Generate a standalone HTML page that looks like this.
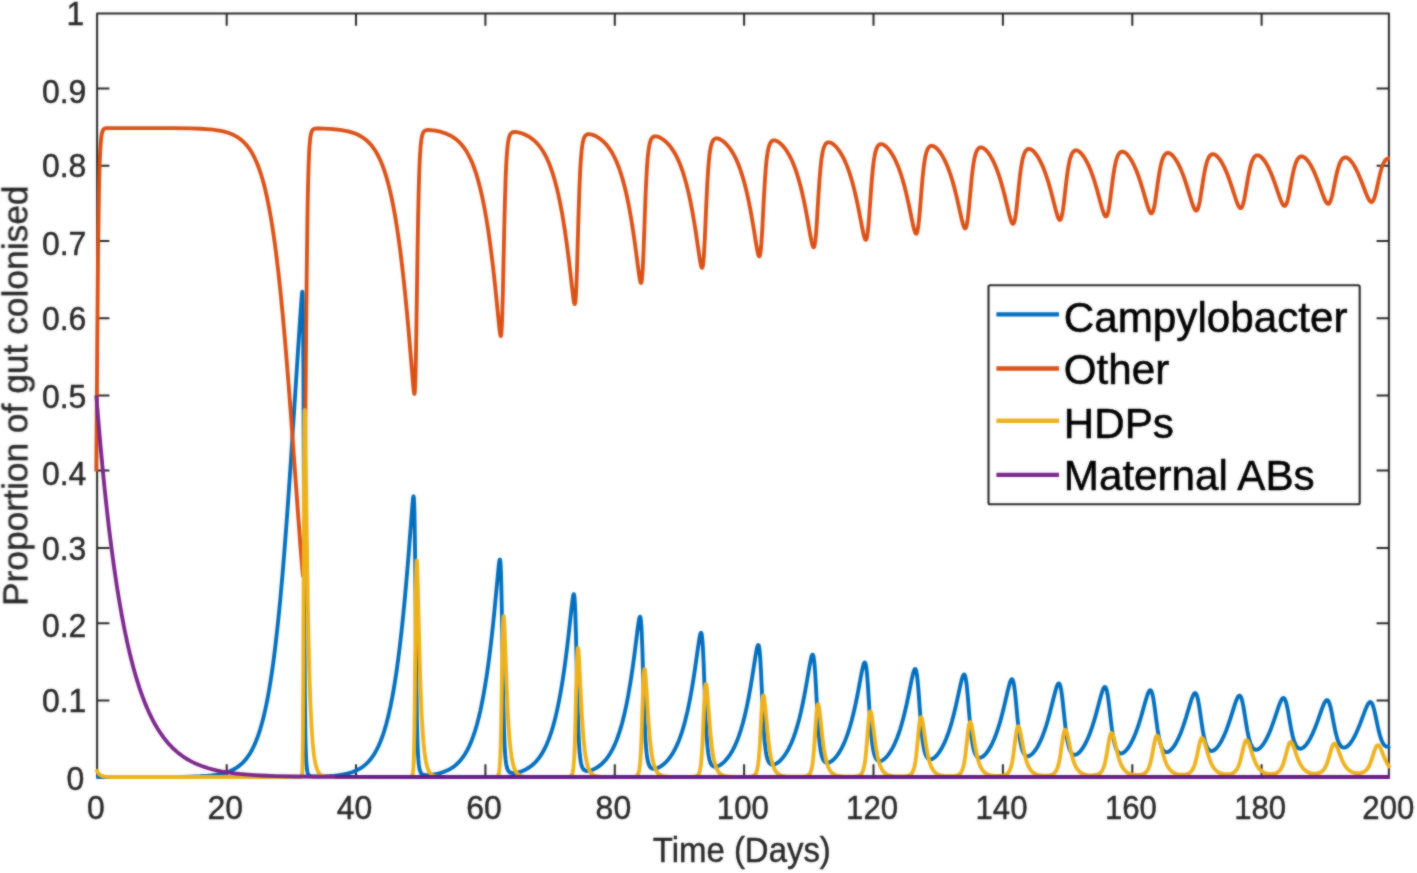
<!DOCTYPE html>
<html><head><meta charset="utf-8"><title>Figure</title>
<style>html,body{margin:0;padding:0;background:#fff}svg{display:block}text{font-family:"Liberation Sans",sans-serif}</style></head><body>
<svg width="1417" height="873" viewBox="0 0 1417 873">
<rect width="1417" height="873" fill="#fff"/>
<defs><filter id="soft" x="0" y="0" width="100%" height="100%" filterUnits="userSpaceOnUse" color-interpolation-filters="sRGB"><feGaussianBlur stdDeviation="0.8" result="b"/><feComposite in="b" in2="SourceGraphic" operator="arithmetic" k1="0" k2="0.55" k3="0.45" k4="0"/></filter></defs>
<g filter="url(#soft)">
<rect width="1417" height="873" fill="#fff"/>
<g stroke="#262626" stroke-width="2" fill="none" stroke-linecap="butt" stroke-linejoin="round">
<path d="M97.1 777.6V13.5H1388.9V777.6"/>
<path d="M226.7 776.6v-12.3M226.7 13.5v12.3"/>
<path d="M356.0 776.6v-12.3M356.0 13.5v12.3"/>
<path d="M485.4 776.6v-12.3M485.4 13.5v12.3"/>
<path d="M614.8 776.6v-12.3M614.8 13.5v12.3"/>
<path d="M744.1 776.6v-12.3M744.1 13.5v12.3"/>
<path d="M873.5 776.6v-12.3M873.5 13.5v12.3"/>
<path d="M1002.9 776.6v-12.3M1002.9 13.5v12.3"/>
<path d="M1132.3 776.6v-12.3M1132.3 13.5v12.3"/>
<path d="M1261.6 776.6v-12.3M1261.6 13.5v12.3"/>
<path d="M97.1 88.5h12.3M1388.9 88.5h-12.3"/>
<path d="M97.1 165.7h12.3M1388.9 165.7h-12.3"/>
<path d="M97.1 240.9h12.3M1388.9 240.9h-12.3"/>
<path d="M97.1 318.3h12.3M1388.9 318.3h-12.3"/>
<path d="M97.1 395.4h12.3M1388.9 395.4h-12.3"/>
<path d="M97.1 470.5h12.3M1388.9 470.5h-12.3"/>
<path d="M97.1 548.1h12.3M1388.9 548.1h-12.3"/>
<path d="M97.1 623.2h12.3M1388.9 623.2h-12.3"/>
<path d="M97.1 700.6h12.3M1388.9 700.6h-12.3"/>
</g>
<g fill="none" stroke-width="3.85" stroke-linejoin="round" stroke-linecap="butt">
<path stroke="#006DBD" d="M96.30 777.00 162.44 776.93 178.13 776.82 189.67 776.62 199.76 776.25 207.95 775.70 211.54 775.34 214.84 774.93 217.91 774.44 220.79 773.88 223.96 773.12 226.90 772.24 229.68 771.23 232.27 770.10 234.73 768.82 237.02 767.40 239.22 765.82 241.32 764.06 243.33 762.13 245.24 760.02 247.08 757.71 248.86 755.17 250.57 752.42 252.22 749.45 253.81 746.26 255.33 742.86 257.04 738.58 258.72 733.87 260.34 728.82 261.93 723.32 263.45 717.47 264.93 711.16 266.39 704.38 267.78 697.29 269.14 689.74 270.50 681.54 271.82 672.86 273.12 663.71 274.38 654.11 275.64 643.82 278.10 621.64 280.20 600.37 282.30 576.93 284.44 550.94 286.60 522.42 288.64 493.85 290.84 461.45 297.89 352.67 300.41 314.70 301.74 296.20 302.06 292.87 302.19 292.04 302.32 291.70 302.42 291.92 302.48 292.35 302.61 294.16 302.84 301.84 303.03 315.66 303.19 334.69 303.49 390.30 304.10 558.04 304.42 630.08 304.81 688.02 305.26 726.98 305.52 740.57 305.85 752.10 306.20 760.27 306.66 766.58 307.17 770.64 307.50 772.20 307.85 773.40 308.24 774.29 308.73 775.03 309.31 775.57 309.99 775.95 311.28 776.31 313.16 776.49 316.03 776.54 320.14 776.47 325.35 776.27 330.30 775.96 334.73 775.58 338.77 775.12 341.75 774.67 344.53 774.17 347.15 773.59 349.61 772.95 351.94 772.22 354.17 771.40 356.27 770.51 358.27 769.52 360.18 768.44 361.99 767.28 363.74 766.00 365.42 764.62 367.04 763.13 368.59 761.53 370.11 759.78 371.57 757.93 372.99 755.93 374.35 753.83 375.67 751.58 376.97 749.17 378.23 746.62 379.46 743.90 380.66 741.03 381.82 738.01 383.02 734.64 384.18 731.10 386.41 723.49 388.55 715.08 390.62 705.74 392.59 695.62 394.53 684.38 396.41 672.17 398.22 659.05 399.83 646.13 401.45 632.02 403.04 617.00 404.62 600.75 406.34 581.78 408.05 561.38 412.45 504.46 413.06 498.29 413.29 496.88 413.42 496.43 413.52 496.30 413.61 496.38 413.71 496.72 413.87 497.94 414.16 502.87 414.42 511.15 414.68 524.11 415.13 559.17 416.01 649.82 416.46 689.46 416.98 721.52 417.27 734.12 417.59 744.60 417.95 752.91 418.37 759.67 418.85 764.76 419.43 768.53 419.76 769.94 420.15 771.20 420.57 772.19 421.02 772.97 421.57 773.63 422.18 774.13 422.89 774.52 423.74 774.80 425.00 775.01 426.58 775.09 428.52 775.03 430.75 774.83 433.21 774.50 435.73 774.05 438.16 773.52 440.52 772.90 442.53 772.28 444.47 771.59 446.34 770.83 448.12 770.00 449.84 769.10 451.49 768.13 453.07 767.08 454.62 765.94 456.05 764.77 457.44 763.51 458.76 762.19 460.06 760.78 461.32 759.28 462.55 757.68 464.91 754.21 467.14 750.36 469.27 746.08 471.31 741.38 473.28 736.16 475.16 730.51 476.94 724.46 478.69 717.79 480.37 710.61 482.02 702.77 483.60 694.42 485.15 685.42 486.64 675.95 487.90 667.24 489.16 657.87 490.39 648.08 491.62 637.61 493.05 624.60 494.47 610.64 498.58 567.09 498.96 563.67 499.32 561.18 499.61 559.84 499.74 559.53 499.87 559.43 500.06 559.75 500.26 560.76 500.61 564.90 500.94 571.93 501.23 581.47 501.78 608.13 502.85 676.04 503.40 705.86 504.01 729.96 504.37 739.91 504.72 747.53 505.17 754.66 505.66 760.00 506.21 764.10 506.89 767.36 507.24 768.55 507.66 769.64 508.12 770.52 508.63 771.27 509.22 771.88 509.86 772.36 510.61 772.71 511.45 772.96 512.48 773.10 513.68 773.11 515.01 773.00 516.49 772.77 518.11 772.40 519.76 771.94 521.44 771.36 523.12 770.70 526.20 769.22 529.07 767.50 531.79 765.50 534.38 763.21 536.68 760.80 538.87 758.10 540.94 755.15 542.95 751.86 544.86 748.28 546.70 744.34 548.45 740.13 550.16 735.48 551.71 730.78 553.23 725.69 554.72 720.18 556.15 714.39 557.54 708.19 558.89 701.57 560.22 694.55 561.55 686.92 562.81 679.07 564.04 670.84 565.27 662.00 566.46 652.78 568.44 636.27 571.54 607.88 572.45 600.25 572.83 597.53 573.19 595.56 573.48 594.49 573.64 594.17 573.77 594.09 573.90 594.17 574.00 594.36 574.23 595.27 574.61 598.67 574.97 604.29 575.32 612.71 575.94 633.93 577.20 690.42 577.78 712.95 578.49 733.42 578.88 741.54 579.30 748.39 579.79 754.31 580.31 758.87 580.92 762.67 581.63 765.59 582.02 766.73 582.47 767.78 582.96 768.64 583.48 769.33 584.06 769.91 584.70 770.35 585.42 770.68 586.19 770.88 587.07 770.98 588.00 770.96 589.04 770.83 590.14 770.60 591.33 770.25 592.56 769.80 595.09 768.62 597.54 767.16 599.94 765.43 602.23 763.45 604.43 761.21 606.41 758.88 608.31 756.30 610.16 753.45 611.90 750.40 613.59 747.10 615.20 743.54 616.79 739.65 618.31 735.51 619.67 731.43 620.99 727.08 622.29 722.45 623.55 717.54 624.78 712.35 625.97 706.90 627.14 701.17 628.30 695.01 630.53 681.92 632.70 667.46 634.45 654.53 637.49 630.23 638.46 623.07 638.91 620.25 639.33 618.19 639.69 617.04 639.85 616.76 640.01 616.65 640.14 616.70 640.27 616.89 640.49 617.61 640.92 620.44 641.34 625.60 641.72 632.74 642.44 651.66 643.79 697.94 644.47 718.11 645.25 735.45 645.67 742.43 646.09 748.00 646.61 753.29 647.19 757.66 647.84 761.11 648.55 763.74 648.97 764.87 649.39 765.78 649.87 766.61 650.39 767.29 650.97 767.85 651.59 768.27 652.27 768.58 652.98 768.77 653.72 768.84 654.50 768.81 655.34 768.69 656.21 768.48 658.12 767.76 660.16 766.69 662.20 765.32 664.23 763.67 666.21 761.78 668.12 759.67 669.86 757.45 671.58 754.99 673.19 752.39 674.78 749.53 676.30 746.47 677.79 743.16 679.21 739.66 680.60 735.90 681.80 732.37 682.96 728.66 684.09 724.76 685.22 720.56 687.39 711.61 689.49 701.67 691.53 690.73 693.57 678.41 695.15 667.89 698.23 646.03 699.29 639.03 699.81 636.20 700.26 634.25 700.68 633.08 700.88 632.82 701.04 632.75 701.17 632.81 701.30 632.98 701.56 633.69 701.78 634.75 702.01 636.28 702.46 640.90 702.88 647.21 703.66 663.82 705.15 704.11 705.86 721.06 706.70 736.41 707.15 742.65 707.61 747.68 708.16 752.46 708.74 756.28 709.42 759.52 710.16 762.02 710.58 763.07 711.00 763.92 711.45 764.66 711.97 765.32 712.52 765.84 713.10 766.24 713.75 766.53 714.43 766.70 715.04 766.76 715.72 766.74 717.18 766.43 718.76 765.80 720.45 764.84 722.16 763.61 723.91 762.10 725.65 760.33 727.33 758.36 728.92 756.27 730.44 754.01 731.93 751.55 733.35 748.94 734.74 746.12 736.10 743.10 737.43 739.87 738.72 736.42 740.85 730.04 742.89 723.04 744.86 715.33 746.77 706.89 748.71 697.25 750.62 686.67 752.37 676.06 755.34 656.94 756.31 651.25 756.90 648.37 757.38 646.48 757.83 645.32 758.03 645.05 758.22 644.95 758.38 645.00 758.51 645.13 758.77 645.70 759.03 646.69 759.26 647.95 759.74 651.98 760.23 657.98 761.07 672.84 762.65 708.06 763.43 723.37 764.30 736.77 764.75 742.15 765.24 746.87 765.82 751.35 766.44 754.95 767.12 757.91 767.86 760.25 768.70 762.06 769.19 762.82 769.67 763.42 770.19 763.90 770.77 764.29 771.35 764.56 772.00 764.72 773.13 764.75 774.39 764.49 775.75 763.93 777.21 763.08 778.69 761.97 780.21 760.60 781.73 759.01 783.22 757.23 784.61 755.35 786.00 753.26 787.36 751.00 788.69 748.57 789.98 745.97 791.24 743.19 792.47 740.24 793.67 737.13 795.61 731.51 797.49 725.35 799.30 718.65 801.04 711.43 802.92 702.78 804.76 693.35 806.44 684.00 809.42 666.57 810.49 660.85 811.10 658.06 811.65 656.10 812.14 654.96 812.36 654.67 812.59 654.57 812.88 654.74 813.17 655.31 813.43 656.18 813.69 657.43 814.21 661.19 814.72 666.71 815.60 679.78 817.31 711.74 818.12 725.17 819.06 737.42 819.54 742.35 820.03 746.44 820.61 750.40 821.22 753.65 821.90 756.38 822.68 758.65 823.52 760.36 823.97 761.04 824.46 761.61 824.98 762.08 825.53 762.44 826.08 762.69 826.69 762.84 827.73 762.86 828.83 762.63 830.02 762.14 831.28 761.39 832.61 760.39 833.94 759.17 835.29 757.73 836.62 756.12 837.91 754.36 839.17 752.45 840.44 750.35 841.67 748.10 842.86 745.71 844.03 743.18 845.16 740.51 846.29 737.63 848.07 732.64 849.78 727.24 851.47 721.34 853.08 715.05 854.86 707.40 856.64 698.98 858.32 690.35 861.33 674.16 862.46 668.59 863.14 665.77 863.72 663.88 864.24 662.78 864.50 662.48 864.73 662.40 864.89 662.44 865.05 662.58 865.34 663.09 865.63 663.96 865.89 665.07 866.44 668.56 866.99 673.65 867.93 685.76 869.74 714.62 870.58 726.58 871.55 737.58 872.03 741.93 872.55 745.81 873.13 749.37 873.78 752.48 874.49 755.09 875.24 757.11 876.08 758.74 876.98 759.90 877.47 760.33 877.99 760.67 878.54 760.91 879.12 761.05 880.06 761.08 881.06 760.87 882.13 760.44 883.23 759.80 884.39 758.92 885.55 757.87 886.75 756.61 887.98 755.13 889.18 753.51 890.34 751.77 891.51 749.85 892.64 747.81 893.77 745.59 894.87 743.25 897.00 738.16 898.62 733.78 900.21 729.02 901.76 723.86 903.28 718.30 905.02 711.29 906.77 703.58 908.42 695.74 911.46 680.61 912.69 675.01 913.40 672.28 914.02 670.42 914.60 669.27 914.86 669.00 915.12 668.91 915.44 669.07 915.76 669.57 916.05 670.35 916.34 671.46 916.93 674.74 917.48 679.21 918.45 690.03 920.39 716.76 921.26 727.57 922.23 737.29 922.75 741.45 923.27 744.96 923.88 748.39 924.53 751.26 925.21 753.60 925.95 755.54 926.76 757.06 927.66 758.22 928.15 758.65 928.67 758.98 929.22 759.22 929.77 759.36 930.61 759.39 931.51 759.22 932.48 758.85 933.49 758.28 934.52 757.52 935.59 756.57 936.69 755.43 937.79 754.12 938.89 752.66 939.95 751.09 942.09 747.48 944.16 743.36 946.20 738.66 947.68 734.79 949.17 730.51 950.63 725.92 952.05 721.02 953.76 714.57 955.48 707.50 957.13 700.19 960.23 685.85 961.53 680.38 962.27 677.73 962.92 675.92 963.24 675.25 963.53 674.80 963.82 674.52 964.08 674.43 964.44 674.59 964.76 675.04 965.08 675.82 965.38 676.82 965.96 679.72 966.57 684.11 967.61 694.32 969.58 718.14 970.52 728.38 971.52 737.29 972.04 741.02 972.59 744.39 973.20 747.50 973.85 750.14 974.53 752.32 975.27 754.15 976.08 755.60 976.95 756.67 977.44 757.09 977.92 757.40 978.44 757.62 978.96 757.75 979.74 757.79 980.58 757.66 981.45 757.34 982.39 756.83 983.33 756.17 984.30 755.33 985.30 754.31 986.30 753.15 987.30 751.85 988.31 750.41 990.31 747.10 992.28 743.28 994.19 739.02 995.91 734.68 997.56 730.01 999.17 724.95 1000.79 719.39 1003.35 709.58 1007.94 689.99 1009.52 683.91 1010.20 681.81 1010.82 680.34 1011.37 679.48 1011.63 679.27 1011.88 679.18 1012.24 679.30 1012.56 679.68 1012.89 680.33 1013.21 681.28 1013.82 683.95 1014.47 688.01 1014.99 692.14 1015.57 697.56 1017.64 719.63 1018.61 729.02 1019.68 737.46 1020.20 740.80 1020.75 743.84 1021.36 746.68 1022.01 749.11 1022.69 751.14 1023.43 752.86 1024.24 754.23 1025.08 755.22 1025.99 755.88 1026.47 756.10 1026.99 756.23 1027.73 756.28 1028.51 756.17 1029.32 755.89 1030.16 755.46 1031.03 754.87 1031.90 754.14 1032.81 753.26 1033.75 752.21 1035.62 749.72 1037.50 746.73 1039.34 743.28 1041.15 739.38 1042.77 735.45 1044.39 731.09 1045.97 726.36 1047.53 721.29 1049.95 712.52 1054.61 693.91 1056.26 687.98 1056.97 685.92 1057.62 684.47 1058.23 683.59 1058.52 683.37 1058.78 683.31 1059.14 683.44 1059.49 683.83 1059.82 684.44 1060.14 685.31 1060.79 687.86 1061.46 691.73 1062.01 695.68 1062.60 700.54 1064.76 721.10 1065.73 729.48 1066.80 737.11 1067.35 740.34 1067.90 743.13 1068.52 745.76 1069.16 748.03 1069.84 749.95 1070.59 751.58 1071.36 752.85 1072.20 753.81 1073.11 754.46 1074.05 754.79 1074.76 754.85 1075.47 754.76 1076.21 754.53 1076.99 754.16 1077.80 753.64 1078.61 753.00 1079.45 752.22 1080.32 751.28 1082.07 749.05 1083.81 746.36 1085.56 743.21 1087.31 739.60 1088.86 735.99 1090.41 731.98 1091.93 727.67 1093.45 722.96 1095.81 714.89 1100.47 697.41 1102.15 691.71 1102.93 689.57 1103.61 688.13 1104.25 687.24 1104.55 687.02 1104.84 686.94 1105.19 687.04 1105.55 687.37 1105.90 687.96 1106.26 688.82 1106.94 691.24 1107.65 694.90 1108.20 698.46 1108.81 703.06 1111.05 722.01 1112.05 729.81 1113.15 736.93 1113.70 739.89 1114.28 742.59 1114.93 745.12 1115.57 747.21 1116.25 748.97 1116.96 750.43 1117.71 751.58 1118.52 752.48 1119.39 753.10 1120.30 753.43 1120.94 753.49 1121.62 753.43 1122.33 753.23 1123.08 752.90 1123.82 752.45 1124.60 751.87 1126.18 750.34 1127.83 748.31 1129.48 745.86 1131.13 742.99 1132.78 739.72 1134.27 736.40 1135.76 732.73 1137.24 728.70 1138.73 724.32 1141.00 717.00 1145.72 700.31 1147.43 694.85 1148.24 692.76 1148.95 691.33 1149.31 690.81 1149.63 690.45 1149.95 690.23 1150.25 690.16 1150.63 690.26 1150.99 690.58 1151.38 691.18 1151.73 691.98 1152.44 694.32 1153.16 697.66 1153.74 701.07 1154.38 705.45 1156.65 722.78 1157.68 730.06 1158.82 736.74 1159.95 741.94 1160.56 744.18 1161.21 746.15 1161.89 747.84 1162.57 749.18 1163.31 750.31 1164.09 751.17 1164.93 751.78 1165.80 752.11 1166.42 752.20 1167.06 752.16 1167.74 752.01 1168.42 751.74 1169.13 751.35 1169.84 750.85 1171.33 749.51 1172.88 747.70 1174.44 745.51 1176.02 742.89 1177.61 739.88 1179.06 736.78 1180.49 733.44 1181.94 729.69 1183.40 725.63 1186.02 717.55 1190.61 702.21 1192.13 697.69 1192.97 695.63 1193.75 694.17 1194.10 693.67 1194.46 693.31 1194.78 693.11 1195.10 693.03 1195.49 693.14 1195.88 693.46 1196.27 694.03 1196.62 694.76 1197.34 696.89 1198.08 700.05 1198.69 703.31 1199.34 707.28 1201.73 723.83 1202.77 730.41 1203.90 736.50 1205.03 741.30 1205.65 743.39 1206.29 745.24 1206.94 746.77 1207.62 748.05 1208.33 749.10 1209.11 749.95 1209.88 750.51 1210.73 750.87 1211.31 750.97 1211.92 750.96 1212.57 750.85 1213.22 750.63 1213.90 750.29 1214.57 749.85 1215.97 748.68 1217.42 747.08 1218.91 745.09 1220.43 742.70 1221.95 739.95 1223.34 737.13 1224.76 733.95 1226.19 730.46 1227.61 726.67 1230.20 719.11 1234.79 704.62 1236.37 700.17 1237.25 698.15 1238.02 696.76 1238.41 696.25 1238.77 695.90 1239.12 695.69 1239.45 695.61 1239.83 695.70 1240.22 695.98 1240.61 696.47 1241.00 697.19 1241.74 699.20 1242.52 702.20 1243.17 705.32 1243.84 709.11 1246.27 724.36 1247.34 730.55 1248.47 736.15 1249.60 740.61 1250.22 742.58 1250.83 744.24 1251.48 745.71 1252.12 746.90 1252.80 747.89 1253.51 748.68 1254.26 749.26 1255.07 749.65 1255.62 749.78 1256.20 749.82 1256.81 749.76 1257.43 749.59 1258.07 749.32 1258.72 748.96 1260.08 747.92 1261.47 746.51 1262.93 744.67 1264.38 742.50 1265.84 740.00 1267.20 737.39 1268.59 734.43 1269.98 731.19 1271.37 727.68 1273.92 720.60 1278.55 706.79 1280.20 702.41 1281.10 700.43 1281.91 699.07 1282.30 698.58 1282.69 698.22 1283.04 698.02 1283.40 697.94 1283.82 698.04 1284.21 698.31 1284.60 698.77 1284.98 699.44 1285.76 701.37 1286.57 704.24 1287.22 707.11 1287.93 710.73 1290.39 724.82 1291.45 730.51 1292.58 735.69 1293.68 739.76 1294.27 741.55 1294.85 743.08 1295.46 744.46 1296.08 745.60 1296.72 746.58 1297.40 747.38 1298.11 747.99 1298.83 748.41 1299.38 748.60 1299.96 748.71 1300.54 748.71 1301.12 748.62 1301.74 748.43 1302.38 748.13 1303.68 747.27 1305.04 746.03 1306.43 744.41 1307.85 742.44 1309.27 740.15 1310.63 737.68 1311.99 734.95 1313.38 731.88 1314.77 728.55 1317.33 721.83 1321.95 708.75 1323.67 704.43 1324.60 702.50 1325.44 701.15 1325.83 700.69 1326.22 700.35 1326.61 700.13 1326.96 700.06 1327.38 700.13 1327.81 700.40 1328.23 700.86 1328.61 701.48 1329.42 703.34 1330.23 705.98 1330.91 708.74 1331.62 712.06 1334.14 725.27 1335.21 730.49 1336.28 735.04 1337.35 738.80 1338.38 741.70 1339.45 743.99 1340.00 744.91 1340.58 745.72 1341.20 746.40 1341.81 746.92 1342.36 747.26 1342.91 747.49 1343.49 747.63 1344.07 747.67 1344.69 747.61 1345.30 747.45 1346.56 746.85 1347.92 745.84 1349.31 744.44 1350.74 742.68 1352.19 740.54 1353.55 738.26 1354.94 735.65 1356.33 732.77 1357.75 729.57 1360.34 723.14 1365.13 710.31 1366.88 706.17 1367.85 704.29 1368.72 702.99 1369.14 702.54 1369.53 702.23 1369.92 702.04 1370.27 701.98 1370.69 702.06 1371.11 702.31 1371.53 702.74 1371.92 703.31 1372.73 705.01 1373.54 707.41 1374.22 709.91 1374.96 713.06 1377.81 726.68 1379.10 732.31 1379.84 735.13 1380.56 737.50 1381.27 739.56 1382.01 741.37 1382.88 743.11 1383.76 744.45 1384.66 745.47 1385.63 746.19 1386.64 746.59 1387.15 746.67 1387.70 746.67 1388.84 746.43 1390.00 745.87"/>
<path stroke="#DA4F14" d="M96.30 471.60 97.21 347.15 97.88 270.60 98.60 213.25 98.95 192.74 99.34 175.49 99.73 162.56 100.18 151.69 100.70 143.29 101.28 137.29 101.60 135.04 101.96 133.18 102.35 131.71 102.77 130.59 103.25 129.71 103.80 129.07 104.48 128.61 105.32 128.31 106.81 128.11 109.37 128.05 142.26 128.05 172.50 128.15 190.55 128.40 200.83 128.77 209.11 129.32 212.73 129.68 216.10 130.11 219.20 130.61 222.11 131.18 225.18 131.92 228.06 132.78 230.75 133.75 233.30 134.85 235.70 136.09 237.96 137.46 240.13 138.98 242.20 140.68 244.17 142.53 246.08 144.58 247.89 146.80 249.64 149.21 251.32 151.82 252.93 154.63 254.52 157.70 256.04 160.97 257.72 165.00 259.34 169.33 260.92 174.05 262.44 179.06 263.93 184.46 265.39 190.27 266.81 196.50 268.17 202.98 269.53 210.03 270.85 217.49 272.15 225.36 273.41 233.62 274.67 242.49 275.90 251.74 278.36 272.12 280.39 291.00 282.43 311.69 284.50 334.53 286.60 359.50 288.58 384.38 290.74 413.03 297.86 511.39 300.54 547.48 302.39 570.67 302.81 574.74 302.97 575.74 303.13 576.14 303.23 575.99 303.29 575.68 303.45 574.02 303.74 566.95 304.04 553.55 304.33 533.66 304.88 481.49 306.11 337.28 306.72 273.81 307.40 220.35 307.76 199.43 308.11 182.76 308.53 167.68 308.98 155.87 309.50 146.54 310.08 139.73 310.41 137.11 310.73 135.10 311.12 133.30 311.54 131.90 311.99 130.84 312.54 129.98 313.19 129.36 313.97 128.94 315.19 128.64 317.01 128.51 320.14 128.53 324.70 128.68 329.42 128.92 333.79 129.24 337.77 129.64 341.39 130.11 344.17 130.57 346.79 131.08 349.28 131.67 351.61 132.32 353.84 133.06 355.95 133.86 357.95 134.75 359.86 135.72 361.70 136.79 363.45 137.93 365.13 139.18 366.78 140.55 368.37 142.03 369.89 143.60 371.34 145.28 372.76 147.09 374.15 149.03 375.48 151.07 376.77 153.25 378.04 155.56 379.26 158.02 380.46 160.61 381.63 163.35 382.79 166.31 383.95 169.50 385.09 172.86 387.25 180.02 389.36 188.00 391.39 196.83 393.33 206.35 395.24 216.89 397.09 228.26 398.90 240.67 400.48 252.59 402.07 265.56 403.65 279.60 405.20 294.43 406.95 312.36 408.70 331.61 413.26 386.06 413.90 392.01 414.16 393.42 414.29 393.78 414.39 393.87 414.49 393.77 414.58 393.46 414.74 392.41 415.07 387.92 415.39 379.55 415.68 368.39 416.23 338.75 417.46 255.90 418.11 218.04 418.85 185.42 419.24 172.87 419.63 162.93 420.08 154.05 420.60 146.69 421.15 141.28 421.79 137.09 422.15 135.49 422.54 134.14 422.96 133.05 423.44 132.13 423.96 131.44 424.58 130.88 425.29 130.48 426.10 130.21 427.29 130.03 428.81 129.98 430.72 130.08 432.95 130.32 435.35 130.69 437.77 131.15 440.13 131.70 442.40 132.33 444.34 132.96 446.21 133.65 447.99 134.40 449.71 135.22 451.36 136.11 452.94 137.06 454.46 138.09 455.95 139.20 457.34 140.34 458.67 141.55 459.99 142.87 461.25 144.24 463.68 147.24 466.01 150.64 468.21 154.39 470.31 158.54 472.31 163.09 474.22 168.02 476.07 173.43 477.84 179.30 479.56 185.64 481.21 192.44 482.83 199.84 484.38 207.66 485.93 216.27 487.42 225.30 488.68 233.58 489.91 242.25 492.33 261.13 493.79 273.65 495.24 287.07 499.42 328.58 499.84 332.04 500.19 334.38 500.48 335.65 500.65 336.03 500.78 336.12 500.90 336.00 501.00 335.75 501.20 334.81 501.55 331.23 501.91 324.85 502.26 315.40 502.88 292.43 504.24 228.92 504.92 201.14 505.72 176.05 506.14 166.34 506.56 158.59 507.05 151.68 507.60 145.90 508.21 141.38 508.93 137.90 509.31 136.56 509.73 135.44 510.19 134.51 510.67 133.77 511.22 133.17 511.84 132.70 512.55 132.34 513.36 132.11 514.36 131.99 515.49 132.00 516.78 132.13 518.24 132.39 519.83 132.77 521.44 133.26 523.09 133.84 524.71 134.50 527.68 135.97 530.50 137.69 533.15 139.66 535.64 141.88 537.90 144.26 540.04 146.88 542.08 149.76 544.05 152.97 545.93 156.45 547.74 160.25 549.45 164.31 551.13 168.78 552.69 173.36 554.17 178.22 555.63 183.45 557.05 189.07 558.41 194.92 559.77 201.30 561.09 208.06 562.39 215.20 563.65 222.72 564.88 230.59 567.30 247.81 569.28 263.49 572.41 290.65 573.32 297.89 573.74 300.68 574.10 302.55 574.42 303.67 574.58 303.96 574.71 304.05 574.84 303.98 574.94 303.83 575.16 303.06 575.58 299.90 575.97 294.65 576.36 286.96 577.07 267.00 578.56 214.56 579.30 191.56 580.14 171.63 580.60 163.53 581.05 157.01 581.57 151.19 582.15 146.31 582.80 142.43 583.51 139.51 583.90 138.34 584.32 137.34 584.77 136.49 585.29 135.76 585.84 135.20 586.45 134.75 587.13 134.43 587.87 134.23 588.68 134.15 589.59 134.17 590.59 134.31 591.66 134.55 592.82 134.90 594.02 135.35 596.51 136.54 598.90 137.98 601.23 139.68 603.46 141.61 605.63 143.82 607.57 146.10 609.41 148.58 611.22 151.34 612.94 154.29 614.59 157.48 616.21 160.97 617.76 164.70 619.28 168.75 620.60 172.63 621.90 176.76 623.16 181.14 624.42 185.89 625.62 190.76 626.81 196.02 627.98 201.53 629.14 207.44 631.37 220.00 633.57 234.05 635.29 246.16 638.39 269.81 639.40 276.85 639.85 279.51 640.27 281.47 640.62 282.58 640.82 282.91 640.98 283.02 641.11 282.97 641.24 282.80 641.50 282.05 641.72 280.89 641.95 279.21 642.40 274.14 642.82 267.29 643.57 250.56 645.15 206.26 645.93 187.01 646.83 169.56 647.29 162.87 647.77 157.02 648.32 151.80 648.94 147.40 649.58 144.01 650.33 141.28 650.75 140.14 651.17 139.23 651.62 138.45 652.11 137.81 652.66 137.26 653.24 136.85 653.88 136.55 654.60 136.37 655.31 136.31 656.05 136.34 656.86 136.47 657.70 136.68 659.58 137.41 661.55 138.47 663.56 139.84 665.53 141.45 667.47 143.31 669.34 145.39 671.06 147.56 672.71 149.92 674.33 152.50 675.88 155.28 677.37 158.23 678.82 161.42 680.24 164.85 681.60 168.46 682.77 171.81 683.93 175.44 686.16 183.21 688.33 191.89 690.40 201.37 692.44 211.92 694.47 223.77 696.06 233.87 699.13 254.81 700.20 261.54 700.75 264.45 701.20 266.34 701.62 267.50 701.82 267.80 702.01 267.92 702.17 267.86 702.30 267.70 702.56 267.06 702.82 265.94 703.05 264.54 703.53 260.07 703.98 254.03 704.82 238.46 706.51 199.90 707.31 183.41 708.25 168.35 708.74 162.31 709.22 157.33 709.80 152.56 710.42 148.70 711.10 145.53 711.84 143.04 712.26 141.99 712.68 141.14 713.14 140.40 713.62 139.78 714.14 139.29 714.72 138.89 715.34 138.61 715.98 138.45 716.60 138.40 717.24 138.43 718.63 138.74 720.15 139.36 721.80 140.31 723.49 141.53 725.20 143.03 726.88 144.74 728.53 146.66 730.08 148.70 731.57 150.90 733.03 153.28 734.45 155.86 735.84 158.64 737.17 161.55 738.46 164.65 739.72 167.95 741.82 174.10 743.83 180.80 745.77 188.16 747.68 196.33 749.62 205.64 751.53 215.85 753.27 226.05 756.25 244.44 757.25 250.11 757.83 252.90 758.35 254.87 758.84 256.06 759.06 256.35 759.26 256.43 759.42 256.37 759.55 256.23 759.84 255.60 760.10 254.64 760.36 253.26 760.87 249.16 761.36 243.64 762.23 230.03 764.04 195.21 764.88 180.79 765.82 167.93 766.31 162.66 766.82 157.98 767.41 153.73 768.05 150.06 768.73 147.15 769.48 144.83 770.32 143.01 770.77 142.30 771.26 141.70 771.77 141.22 772.32 140.85 772.91 140.59 773.52 140.44 774.62 140.42 775.85 140.70 777.17 141.26 778.57 142.08 780.02 143.18 781.51 144.53 783.00 146.09 784.45 147.83 785.84 149.71 787.20 151.74 788.53 153.94 789.82 156.29 791.08 158.80 792.34 161.54 793.54 164.37 794.74 167.44 796.61 172.76 798.46 178.67 800.23 185.07 801.98 192.08 803.82 200.31 805.67 209.42 807.38 218.62 810.39 235.61 811.46 241.12 812.10 243.94 812.65 245.82 813.17 246.98 813.40 247.24 813.62 247.33 813.79 247.28 813.95 247.13 814.24 246.57 814.53 245.62 814.79 244.41 815.31 240.91 815.86 235.57 816.79 223.00 818.67 192.17 819.54 179.27 820.55 167.36 821.06 162.48 821.58 158.39 822.16 154.61 822.81 151.30 823.49 148.64 824.23 146.48 825.07 144.76 825.53 144.08 825.98 143.54 826.50 143.07 827.01 142.72 827.56 142.48 828.15 142.34 829.15 142.31 830.22 142.54 831.35 143.01 832.58 143.74 833.87 144.72 835.16 145.89 836.49 147.30 837.78 148.86 839.05 150.56 840.31 152.45 841.54 154.48 842.73 156.64 843.90 158.93 845.06 161.41 846.19 164.03 847.33 166.86 849.07 171.66 850.75 176.83 852.40 182.47 854.02 188.58 855.80 196.00 857.58 204.16 859.26 212.51 862.27 228.16 863.43 233.72 864.11 236.46 864.73 238.41 865.28 239.54 865.53 239.82 865.76 239.91 866.08 239.76 866.41 239.24 866.70 238.42 866.99 237.25 867.54 234.01 868.12 229.09 869.12 217.42 871.06 189.79 872.00 177.74 873.04 167.00 873.55 162.69 874.07 159.04 874.69 155.46 875.33 152.46 876.01 150.02 876.76 148.00 877.57 146.43 878.02 145.78 878.47 145.26 878.96 144.83 879.44 144.51 879.99 144.26 880.54 144.13 881.45 144.10 882.42 144.29 883.45 144.71 884.52 145.33 885.65 146.18 886.82 147.23 887.98 148.46 889.18 149.89 890.34 151.45 891.47 153.14 892.60 154.98 893.74 156.99 895.94 161.42 898.04 166.34 899.66 170.64 901.21 175.21 902.73 180.14 904.25 185.55 905.99 192.38 907.74 199.86 909.39 207.47 912.46 222.28 913.69 227.70 914.40 230.35 915.05 232.24 915.63 233.35 915.89 233.62 916.15 233.72 916.47 233.60 916.80 233.16 917.12 232.38 917.41 231.37 918.03 228.20 918.64 223.60 919.68 213.01 921.71 187.62 922.65 177.01 923.72 167.14 924.24 163.25 924.79 159.73 925.40 156.47 926.05 153.70 926.76 151.32 927.50 149.44 928.31 147.97 929.18 146.88 929.67 146.47 930.15 146.16 930.67 145.94 931.19 145.81 932.03 145.79 932.90 145.96 933.84 146.32 934.81 146.88 935.85 147.64 936.88 148.56 937.95 149.67 939.02 150.94 940.08 152.35 941.12 153.86 943.22 157.38 945.26 161.38 947.26 165.94 949.01 170.45 950.72 175.40 952.41 180.80 954.06 186.64 955.38 191.73 956.71 197.15 961.33 217.66 962.88 223.83 963.53 225.89 964.11 227.32 964.66 228.19 964.92 228.40 965.15 228.46 965.50 228.32 965.83 227.90 966.15 227.19 966.47 226.17 967.09 223.31 967.74 219.01 968.25 214.67 968.84 209.02 970.94 185.85 971.91 176.13 972.98 167.30 973.53 163.58 974.08 160.39 974.72 157.26 975.37 154.73 976.05 152.62 976.79 150.85 977.60 149.44 978.44 148.44 978.89 148.06 979.38 147.75 979.86 147.54 980.38 147.41 981.16 147.38 981.97 147.52 982.81 147.83 983.71 148.32 984.65 148.99 985.59 149.81 986.56 150.79 987.53 151.91 988.50 153.16 989.50 154.59 991.44 157.76 993.38 161.47 995.26 165.59 996.91 169.69 998.56 174.25 1000.18 179.20 1001.79 184.63 1004.32 194.06 1008.97 213.38 1010.56 219.27 1011.27 221.40 1011.88 222.81 1012.47 223.66 1012.72 223.86 1012.98 223.93 1013.34 223.80 1013.66 223.44 1014.02 222.75 1014.34 221.83 1014.99 219.15 1015.67 215.12 1016.22 211.00 1016.80 205.97 1019.00 184.41 1020.00 175.44 1021.10 167.28 1022.20 161.02 1022.82 158.28 1023.46 155.91 1024.14 153.92 1024.89 152.23 1025.66 150.92 1026.50 149.93 1027.41 149.27 1027.89 149.06 1028.38 148.93 1029.09 148.89 1029.83 148.99 1030.64 149.26 1031.45 149.68 1032.29 150.24 1033.17 150.96 1034.07 151.84 1034.98 152.85 1036.79 155.23 1038.63 158.14 1040.44 161.48 1042.25 165.32 1043.84 169.10 1045.42 173.30 1046.98 177.83 1048.53 182.79 1050.95 191.34 1055.61 209.46 1057.26 215.25 1058.00 217.35 1058.65 218.78 1059.27 219.66 1059.56 219.89 1059.85 219.98 1060.20 219.88 1060.56 219.53 1060.92 218.91 1061.27 218.01 1061.95 215.46 1062.63 211.83 1063.21 207.93 1063.83 203.16 1066.09 183.28 1067.12 174.96 1068.22 167.56 1069.36 161.66 1070.00 159.02 1070.65 156.84 1071.33 154.99 1072.04 153.47 1072.82 152.23 1073.63 151.32 1074.50 150.69 1075.44 150.36 1076.12 150.31 1076.83 150.40 1077.57 150.63 1078.32 150.99 1079.09 151.49 1079.90 152.13 1081.55 153.78 1083.26 155.95 1084.98 158.56 1086.69 161.61 1088.41 165.11 1089.93 168.59 1091.45 172.44 1092.97 176.66 1094.49 181.27 1096.82 189.04 1101.50 206.20 1103.19 211.76 1103.96 213.84 1104.67 215.32 1105.32 216.19 1105.64 216.42 1105.94 216.50 1106.32 216.39 1106.68 216.06 1107.04 215.49 1107.39 214.67 1108.10 212.26 1108.81 208.82 1109.40 205.30 1110.04 200.78 1112.40 182.12 1113.44 174.61 1114.57 167.70 1115.70 162.29 1116.32 159.95 1116.96 157.90 1117.64 156.15 1118.36 154.70 1119.10 153.55 1119.91 152.66 1120.75 152.06 1121.65 151.73 1122.30 151.66 1122.95 151.72 1123.63 151.91 1124.34 152.22 1125.08 152.66 1125.83 153.21 1127.38 154.68 1129.00 156.65 1130.61 159.01 1132.23 161.78 1133.85 164.94 1135.34 168.20 1136.82 171.80 1138.28 175.66 1139.77 179.95 1142.42 188.40 1146.98 204.15 1148.47 208.72 1149.27 210.77 1150.02 212.23 1150.70 213.10 1151.02 213.33 1151.34 213.41 1151.73 213.32 1152.12 212.99 1152.51 212.42 1152.86 211.66 1153.58 209.46 1154.32 206.19 1154.93 202.82 1155.61 198.52 1158.01 181.39 1159.07 174.35 1160.24 167.86 1161.37 162.90 1161.99 160.73 1162.63 158.82 1163.31 157.17 1163.99 155.86 1164.70 154.80 1165.48 153.95 1166.29 153.37 1167.16 153.03 1167.77 152.95 1168.39 152.98 1169.04 153.12 1169.72 153.39 1170.39 153.76 1171.11 154.24 1172.56 155.55 1174.08 157.30 1175.60 159.42 1177.15 161.95 1178.71 164.85 1180.13 167.82 1181.55 171.11 1182.98 174.70 1184.43 178.68 1187.05 186.58 1191.64 201.56 1193.20 206.06 1194.04 208.07 1194.81 209.50 1195.52 210.35 1195.88 210.58 1196.20 210.65 1196.59 210.57 1196.98 210.27 1197.37 209.75 1197.76 209.00 1198.50 206.89 1199.28 203.76 1199.92 200.51 1200.60 196.58 1203.06 180.60 1204.16 174.00 1205.32 168.08 1206.46 163.50 1207.07 161.48 1207.72 159.69 1208.36 158.22 1209.04 156.96 1209.76 155.94 1210.50 155.15 1211.28 154.60 1212.08 154.27 1212.67 154.17 1213.25 154.17 1213.86 154.28 1214.51 154.50 1215.16 154.81 1215.84 155.24 1217.23 156.40 1218.65 157.95 1220.10 159.88 1221.59 162.20 1223.08 164.85 1224.47 167.63 1225.86 170.70 1227.25 174.04 1228.68 177.75 1231.23 185.07 1235.79 199.14 1237.41 203.59 1238.31 205.64 1239.12 207.05 1239.51 207.54 1239.87 207.88 1240.22 208.10 1240.58 208.17 1241.00 208.08 1241.39 207.79 1241.77 207.30 1242.16 206.61 1242.94 204.58 1243.75 201.59 1244.39 198.61 1245.11 194.85 1247.60 180.09 1248.70 174.04 1249.86 168.55 1250.99 164.26 1251.61 162.36 1252.22 160.74 1252.87 159.31 1253.51 158.14 1254.19 157.17 1254.91 156.40 1255.65 155.83 1256.43 155.47 1256.98 155.34 1257.56 155.31 1258.14 155.37 1258.75 155.53 1259.37 155.79 1260.02 156.15 1261.34 157.16 1262.70 158.53 1264.09 160.26 1265.51 162.35 1266.97 164.80 1268.33 167.38 1269.69 170.23 1271.04 173.33 1272.44 176.77 1274.99 183.71 1279.58 197.12 1281.26 201.50 1282.17 203.43 1283.01 204.82 1283.40 205.29 1283.79 205.65 1284.18 205.86 1284.53 205.93 1284.95 205.84 1285.34 205.58 1285.76 205.10 1286.15 204.46 1286.96 202.52 1287.77 199.77 1288.44 196.92 1289.19 193.32 1291.74 179.46 1292.81 174.07 1293.94 169.12 1295.07 165.08 1296.24 161.86 1296.85 160.52 1297.47 159.41 1298.11 158.46 1298.76 157.71 1299.44 157.12 1300.15 156.71 1300.70 156.51 1301.25 156.41 1301.83 156.41 1302.42 156.49 1303.03 156.68 1303.65 156.96 1304.91 157.78 1306.23 158.97 1307.59 160.52 1308.98 162.42 1310.41 164.67 1311.73 167.04 1313.09 169.73 1314.45 172.67 1315.84 175.93 1318.36 182.42 1323.02 195.31 1324.73 199.54 1325.70 201.49 1326.58 202.84 1327.00 203.32 1327.38 203.64 1327.77 203.83 1328.13 203.90 1328.55 203.81 1328.97 203.55 1329.39 203.10 1329.81 202.45 1330.62 200.64 1331.46 198.00 1332.14 195.36 1332.92 191.91 1335.47 179.20 1336.54 174.22 1337.64 169.73 1338.70 166.10 1339.74 163.27 1340.81 161.04 1341.36 160.14 1341.94 159.34 1342.52 158.70 1343.10 158.21 1343.62 157.88 1344.17 157.63 1344.72 157.49 1345.30 157.43 1345.88 157.47 1346.50 157.62 1347.11 157.85 1347.76 158.18 1349.09 159.14 1350.45 160.47 1351.87 162.20 1353.29 164.24 1354.65 166.48 1356.01 168.98 1357.40 171.80 1358.82 174.94 1361.41 181.24 1366.16 193.71 1367.94 197.86 1368.91 199.71 1369.82 201.03 1370.24 201.47 1370.63 201.78 1371.01 201.97 1371.40 202.04 1371.82 201.97 1372.24 201.73 1372.66 201.33 1373.08 200.74 1373.93 199.04 1374.77 196.64 1375.48 194.13 1376.25 190.98 1379.07 178.14 1380.33 172.84 1381.72 167.95 1382.40 165.96 1383.08 164.24 1383.85 162.60 1384.63 161.27 1385.44 160.19 1386.28 159.36 1387.15 158.80 1388.06 158.49 1389.00 158.42 1390.00 158.61"/>
<path stroke="#EDB11E" d="M96.30 769.36 97.17 771.34 98.18 772.99 98.73 773.68 99.31 774.28 99.92 774.80 100.60 775.26 102.06 775.94 103.84 776.43 106.00 776.73 108.91 776.90 113.12 776.98 121.11 777.00 299.31 777.00 300.90 776.92 301.25 776.75 301.51 776.45 301.84 775.52 302.06 774.01 302.26 771.55 302.42 768.02 302.68 757.24 302.90 738.58 303.26 679.20 304.10 460.51 304.39 423.60 304.55 413.86 304.65 410.96 304.75 409.90 304.81 410.08 304.88 410.90 305.04 415.27 305.39 433.22 307.17 562.80 307.76 598.96 308.34 629.76 308.95 656.90 309.63 681.34 310.34 701.75 311.09 718.50 311.96 733.51 312.93 745.73 313.45 750.78 314.03 755.49 314.64 759.55 315.29 763.00 315.97 765.90 316.71 768.38 317.52 770.46 318.40 772.14 319.37 773.51 320.43 774.57 321.66 775.40 323.12 776.02 324.77 776.44 326.80 776.72 329.39 776.88 333.05 776.97 408.11 777.00 410.05 776.94 411.06 776.77 411.41 776.60 411.74 776.35 412.03 775.98 412.25 775.54 412.61 774.42 412.93 772.65 413.19 770.37 413.42 767.39 413.81 758.96 414.16 745.42 414.45 728.40 414.71 707.98 415.59 617.26 415.91 589.28 416.33 567.07 416.52 562.29 416.62 561.06 416.75 560.49 416.91 561.31 417.11 564.20 417.53 575.60 419.47 652.44 420.08 673.49 420.70 691.51 421.34 707.40 421.99 720.50 422.70 732.18 423.48 742.24 424.38 751.20 424.87 755.01 425.38 758.46 425.90 761.38 426.48 764.11 427.10 766.48 427.75 768.50 428.43 770.21 429.17 771.69 429.98 772.93 430.85 773.94 431.82 774.78 432.92 775.45 434.15 775.96 435.57 776.34 437.19 776.61 439.13 776.79 444.86 776.96 493.89 776.97 495.76 776.85 496.38 776.74 496.89 776.56 497.31 776.31 497.70 775.96 498.03 775.51 498.32 774.94 498.71 773.78 499.06 772.12 499.35 770.12 499.61 767.65 500.10 760.40 500.52 750.05 500.87 737.23 501.20 721.89 502.26 656.49 502.65 636.44 502.91 626.68 503.14 620.79 503.36 617.32 503.49 616.35 503.62 616.06 503.72 616.26 503.82 616.78 504.04 619.10 504.53 628.11 506.66 686.05 507.31 701.34 507.92 713.90 508.60 725.62 509.28 735.31 509.99 743.59 510.77 750.81 511.71 757.52 512.71 762.82 513.26 765.08 513.84 767.09 514.46 768.84 515.14 770.41 515.85 771.74 516.59 772.83 517.40 773.76 518.30 774.56 519.28 775.19 520.37 775.71 521.64 776.12 523.06 776.43 524.68 776.65 526.62 776.80 532.21 776.96 559.57 777.00 567.17 776.93 569.15 776.74 569.83 776.58 570.41 776.34 570.93 775.99 571.35 775.57 571.73 775.00 572.06 774.34 572.45 773.22 572.80 771.76 573.13 769.91 573.42 767.68 573.93 761.84 574.42 753.29 574.84 742.69 575.23 729.96 576.42 680.10 576.88 664.00 577.14 657.10 577.39 652.14 577.65 649.13 577.78 648.33 577.94 647.94 578.04 648.02 578.17 648.45 578.43 650.34 578.98 657.83 581.31 704.98 581.99 717.03 582.63 726.98 583.31 735.86 584.02 743.61 584.77 750.22 585.54 755.78 586.52 761.15 587.55 765.40 588.10 767.17 588.71 768.83 589.33 770.21 590.01 771.46 590.72 772.52 591.50 773.44 592.34 774.22 593.24 774.86 594.25 775.40 595.38 775.84 596.64 776.19 598.09 776.45 599.78 776.65 601.78 776.79 607.47 776.94 626.39 776.98 630.53 776.94 632.93 776.86 634.96 776.60 635.71 776.38 636.32 776.10 636.87 775.71 637.33 775.25 637.75 774.64 638.13 773.87 638.55 772.72 638.94 771.25 639.27 769.62 639.59 767.50 640.14 762.40 640.66 755.26 641.11 746.64 641.53 736.46 642.89 695.11 643.41 681.67 643.70 676.05 643.99 672.05 644.28 669.72 644.41 669.20 644.57 668.97 644.70 669.10 644.83 669.49 645.09 670.98 645.38 673.63 645.70 677.50 646.25 685.59 648.19 717.09 648.90 727.06 649.58 735.33 650.29 742.71 651.01 748.89 651.75 754.22 652.56 758.91 653.56 763.42 654.63 767.00 655.21 768.53 655.83 769.89 656.47 771.08 657.18 772.16 657.93 773.07 658.70 773.83 659.58 774.51 660.51 775.07 661.55 775.53 662.68 775.91 663.98 776.21 665.43 776.45 667.24 776.64 669.41 776.78 675.52 776.92 688.20 776.94 691.47 776.87 693.63 776.75 694.77 776.61 695.67 776.42 696.45 776.15 697.09 775.82 697.68 775.38 698.16 774.85 698.61 774.19 699.03 773.36 699.46 772.24 699.81 771.01 700.49 767.60 701.07 763.13 701.62 757.05 702.11 749.84 702.59 740.73 704.08 705.90 704.63 694.88 704.95 690.01 705.24 686.84 705.57 684.71 705.73 684.18 705.89 683.99 706.02 684.07 706.18 684.45 706.47 685.81 706.80 688.21 707.12 691.35 707.73 698.66 709.80 725.94 710.55 734.40 711.26 741.45 711.97 747.47 712.72 752.77 713.49 757.34 714.30 761.21 715.30 764.98 715.85 766.64 716.44 768.16 717.02 769.44 717.66 770.65 718.34 771.70 719.05 772.61 719.83 773.42 720.64 774.09 721.51 774.67 722.48 775.17 723.52 775.58 724.68 775.92 725.98 776.20 727.46 776.42 729.40 776.60 731.73 776.74 738.23 776.88 746.42 776.84 748.87 776.75 750.69 776.60 751.75 776.43 752.66 776.20 753.43 775.90 754.11 775.52 754.73 775.02 755.25 774.44 755.73 773.71 756.15 772.88 756.57 771.81 756.96 770.54 757.64 767.44 758.25 763.33 758.80 758.22 759.32 751.93 759.84 744.11 761.42 714.56 762.04 704.70 762.39 700.43 762.72 697.64 763.04 695.95 763.20 695.50 763.40 695.31 763.53 695.37 763.69 695.67 764.01 696.88 764.37 699.05 764.72 701.91 765.37 708.30 767.57 732.41 768.31 739.47 769.06 745.65 769.80 750.94 770.54 755.41 771.35 759.45 772.19 762.87 773.23 766.18 773.81 767.68 774.39 768.97 775.01 770.14 775.65 771.17 776.33 772.08 777.08 772.91 777.85 773.61 778.69 774.23 779.60 774.76 780.57 775.20 781.64 775.58 782.83 775.90 785.62 776.36 789.98 776.67 796.09 776.78 801.63 776.69 803.53 776.57 805.02 776.39 806.06 776.18 806.93 775.92 807.71 775.57 808.38 775.14 808.97 774.64 809.52 774.00 810.00 773.26 810.45 772.37 811.23 770.21 811.91 767.42 812.52 763.84 813.11 759.28 813.66 753.72 814.21 746.87 815.92 720.81 816.57 712.36 816.96 708.56 817.31 706.08 817.67 704.62 817.83 704.29 818.02 704.16 818.18 704.25 818.35 704.53 818.70 705.71 819.06 707.57 819.45 710.22 820.16 716.21 822.42 737.25 823.20 743.52 823.97 749.00 824.72 753.52 825.49 757.53 826.30 761.01 827.18 764.08 828.24 767.05 829.41 769.49 830.02 770.52 830.70 771.49 831.41 772.33 832.16 773.07 832.97 773.72 833.81 774.28 834.71 774.76 835.71 775.18 836.78 775.53 837.98 775.82 840.76 776.26 844.93 776.55 850.17 776.63 854.38 776.49 855.93 776.34 857.22 776.13 858.19 775.89 859.03 775.59 859.78 775.22 860.46 774.75 861.04 774.22 861.59 773.56 862.11 772.76 862.56 771.87 863.33 769.78 864.01 767.18 864.63 763.96 865.21 759.98 865.76 755.26 866.34 749.19 868.15 726.27 868.83 718.82 869.22 715.55 869.61 713.18 870.00 711.76 870.19 711.40 870.39 711.28 870.55 711.34 870.74 711.60 871.10 712.58 871.49 714.28 871.91 716.72 872.65 722.07 875.04 741.18 875.85 746.80 876.66 751.72 877.40 755.63 878.18 759.11 878.99 762.17 879.86 764.89 880.96 767.61 882.16 769.86 882.80 770.82 883.48 771.69 884.20 772.45 884.94 773.12 885.75 773.73 886.59 774.24 887.49 774.69 888.50 775.09 890.76 775.70 893.51 776.12 897.33 776.38 901.69 776.43 905.12 776.25 906.48 776.08 907.64 775.85 908.58 775.58 909.39 775.25 910.13 774.84 910.78 774.37 911.36 773.81 911.91 773.14 912.43 772.34 912.88 771.46 913.63 769.58 914.31 767.21 914.95 764.21 915.54 760.73 916.12 756.42 916.73 750.95 918.64 730.53 919.35 723.93 919.77 720.93 920.19 718.78 920.58 717.58 920.78 717.26 921.00 717.13 921.16 717.18 921.36 717.41 921.75 718.31 922.17 719.91 922.62 722.20 923.39 727.06 925.89 744.35 926.73 749.44 927.53 753.74 928.31 757.32 929.09 760.39 929.90 763.09 930.77 765.53 931.87 767.98 933.07 770.03 933.71 770.92 934.39 771.72 935.10 772.44 935.88 773.09 936.69 773.66 937.53 774.14 938.43 774.57 939.44 774.95 941.67 775.54 944.32 775.94 947.78 776.18 951.44 776.18 954.41 775.96 955.61 775.78 956.68 775.53 957.55 775.25 958.36 774.89 959.07 774.46 959.72 773.97 960.30 773.39 960.85 772.71 961.36 771.91 961.82 771.06 962.56 769.25 963.24 767.04 963.86 764.46 964.47 761.21 965.08 757.22 965.70 752.48 967.70 734.11 968.45 728.20 968.90 725.43 969.32 723.57 969.74 722.44 969.97 722.13 970.19 722.03 970.39 722.10 970.58 722.31 971.00 723.21 971.42 724.63 971.91 726.79 972.72 731.24 975.27 746.83 976.11 751.33 976.95 755.30 977.73 758.49 978.51 761.25 979.31 763.70 980.19 765.91 981.32 768.23 982.52 770.12 983.84 771.70 985.30 772.97 986.11 773.51 986.95 773.98 988.82 774.76 990.99 775.33 993.51 775.72 996.65 775.92 999.82 775.90 1002.44 775.66 1003.54 775.46 1004.54 775.20 1005.38 774.89 1006.16 774.52 1006.84 774.10 1007.49 773.58 1008.07 773.00 1008.62 772.32 1009.59 770.71 1010.30 769.07 1010.98 767.05 1011.59 764.72 1012.21 761.85 1012.85 758.17 1013.50 753.83 1015.57 737.41 1016.38 731.83 1016.83 729.41 1017.29 727.64 1017.74 726.56 1017.96 726.29 1018.19 726.19 1018.38 726.24 1018.61 726.44 1019.03 727.20 1019.48 728.53 1020.00 730.55 1020.88 734.79 1023.53 749.10 1024.40 753.24 1025.24 756.76 1026.02 759.61 1026.79 762.08 1027.60 764.29 1028.44 766.24 1029.58 768.38 1030.77 770.14 1032.07 771.60 1033.52 772.82 1035.14 773.78 1036.95 774.53 1039.02 775.08 1041.38 775.45 1044.23 775.64 1047.04 775.60 1049.43 775.34 1051.41 774.86 1052.21 774.55 1052.96 774.18 1053.64 773.75 1054.28 773.23 1054.87 772.65 1055.42 771.98 1056.39 770.42 1057.10 768.88 1057.78 767.00 1058.39 764.88 1059.01 762.31 1059.65 759.06 1060.33 755.06 1062.53 739.85 1063.37 734.82 1063.86 732.58 1064.31 731.06 1064.76 730.12 1064.99 729.87 1065.25 729.76 1065.44 729.80 1065.64 729.94 1066.03 730.50 1066.45 731.48 1066.90 732.91 1067.97 737.34 1070.68 750.43 1072.01 755.97 1072.88 759.09 1073.79 761.88 1074.73 764.33 1075.70 766.44 1076.80 768.38 1077.99 770.06 1079.29 771.45 1080.68 772.58 1082.23 773.51 1083.98 774.24 1085.95 774.78 1088.18 775.15 1090.77 775.33 1093.35 775.28 1095.59 775.01 1097.46 774.52 1098.95 773.85 1099.63 773.41 1100.24 772.92 1101.38 771.71 1102.38 770.18 1103.19 768.50 1103.96 766.42 1104.71 763.89 1105.42 760.93 1106.62 754.71 1108.88 740.91 1109.78 736.47 1110.24 734.84 1110.66 733.75 1111.08 733.09 1111.27 732.93 1111.50 732.86 1111.69 732.90 1111.92 733.04 1112.34 733.60 1112.79 734.57 1113.25 735.87 1114.34 739.97 1117.13 751.98 1118.45 756.99 1119.33 759.82 1120.23 762.38 1121.14 764.56 1122.11 766.54 1123.21 768.37 1124.37 769.92 1125.63 771.24 1126.99 772.32 1128.48 773.21 1130.16 773.92 1132.04 774.46 1134.11 774.82 1136.50 775.00 1138.86 774.95 1140.96 774.69 1142.77 774.21 1144.26 773.53 1145.56 772.61 1146.69 771.43 1147.69 769.97 1148.53 768.33 1149.31 766.39 1150.05 764.08 1150.76 761.40 1151.99 755.71 1154.32 743.13 1155.26 739.02 1155.71 737.54 1156.16 736.46 1156.62 735.81 1156.84 735.64 1157.07 735.57 1157.49 735.73 1157.94 736.25 1158.40 737.11 1158.91 738.44 1159.88 741.65 1162.66 752.50 1164.18 757.77 1165.06 760.37 1165.96 762.73 1166.87 764.77 1167.81 766.56 1168.87 768.25 1170.01 769.71 1171.24 770.97 1172.56 772.02 1174.02 772.89 1175.60 773.58 1177.35 774.10 1179.26 774.46 1181.49 774.65 1183.72 774.62 1185.72 774.37 1187.50 773.89 1188.96 773.24 1190.25 772.35 1191.38 771.22 1192.42 769.79 1193.26 768.26 1194.04 766.48 1194.78 764.38 1195.52 761.86 1196.79 756.63 1199.21 744.96 1200.18 741.17 1200.67 739.76 1201.15 738.75 1201.60 738.17 1201.83 738.02 1202.09 737.96 1202.54 738.13 1203.03 738.68 1203.51 739.54 1204.03 740.77 1205.03 743.80 1207.81 753.63 1209.33 758.45 1210.21 760.84 1211.08 762.96 1211.99 764.87 1212.89 766.50 1213.96 768.12 1215.06 769.49 1216.26 770.69 1217.52 771.69 1218.91 772.53 1220.40 773.20 1222.01 773.71 1223.76 774.08 1225.89 774.29 1228.00 774.28 1229.94 774.05 1231.68 773.60 1233.14 772.97 1234.43 772.11 1235.60 771.02 1236.63 769.67 1237.47 768.26 1238.28 766.55 1239.06 764.55 1239.80 762.26 1241.10 757.43 1243.59 746.70 1244.59 743.16 1245.11 741.80 1245.59 740.87 1246.08 740.29 1246.30 740.15 1246.56 740.09 1246.79 740.11 1247.05 740.23 1247.53 740.70 1248.05 741.52 1248.63 742.77 1249.70 745.71 1252.48 754.65 1254.00 759.07 1254.84 761.20 1255.71 763.17 1256.59 764.90 1257.46 766.40 1258.46 767.88 1259.53 769.18 1260.63 770.28 1261.83 771.25 1263.12 772.07 1264.48 772.72 1265.97 773.25 1267.55 773.64 1269.59 773.91 1271.63 773.95 1273.53 773.77 1275.28 773.36 1276.77 772.77 1278.09 771.96 1279.29 770.92 1280.36 769.65 1281.23 768.31 1282.07 766.69 1282.88 764.79 1283.66 762.62 1284.98 758.14 1287.54 748.24 1288.61 744.84 1289.12 743.61 1289.64 742.71 1290.13 742.19 1290.39 742.04 1290.64 741.98 1290.90 742.01 1291.16 742.12 1291.68 742.59 1292.23 743.39 1292.84 744.62 1293.94 747.41 1296.72 755.57 1298.18 759.47 1299.80 763.11 1300.64 764.71 1301.48 766.11 1302.42 767.47 1303.39 768.66 1304.42 769.73 1305.49 770.64 1306.62 771.42 1307.85 772.10 1309.14 772.64 1310.53 773.07 1312.51 773.45 1314.51 773.60 1316.49 773.50 1318.30 773.17 1319.88 772.63 1321.27 771.89 1322.53 770.91 1323.67 769.69 1324.57 768.43 1325.44 766.92 1326.29 765.13 1327.09 763.10 1328.48 758.86 1331.17 749.47 1332.24 746.40 1332.79 745.21 1333.30 744.39 1333.82 743.87 1334.34 743.67 1334.60 743.69 1334.89 743.80 1335.47 744.28 1336.05 745.09 1336.70 746.28 1337.86 749.02 1340.52 756.16 1341.84 759.48 1343.33 762.69 1344.82 765.35 1345.63 766.56 1346.43 767.63 1347.28 768.60 1348.15 769.46 1349.05 770.23 1350.02 770.93 1351.03 771.52 1352.06 772.02 1353.97 772.68 1356.01 773.09 1358.14 773.24 1360.18 773.10 1361.99 772.71 1363.61 772.07 1365.06 771.18 1366.39 770.00 1367.39 768.81 1368.33 767.40 1369.24 765.72 1370.14 763.70 1371.66 759.53 1374.48 750.61 1375.61 747.68 1376.16 746.61 1376.67 745.87 1377.19 745.40 1377.71 745.20 1378.26 745.30 1378.84 745.71 1379.42 746.40 1380.07 747.46 1381.24 749.90 1384.37 757.62 1386.09 761.40 1387.02 763.20 1387.99 764.85 1389.00 766.33 1390.00 767.60"/>
<path stroke="#79268B" d="M96.30 395.25 98.34 420.58 100.44 444.96 102.57 468.01 104.77 490.09 107.04 511.16 109.33 530.96 111.70 549.78 114.12 567.61 116.61 584.47 119.20 600.55 121.85 615.64 124.57 629.75 127.38 643.08 130.29 655.59 133.30 667.29 136.40 678.19 139.54 688.11 141.16 692.82 142.81 697.37 144.49 701.76 146.20 705.98 147.95 710.04 149.73 713.94 151.54 717.67 153.42 721.31 155.29 724.72 157.23 728.03 159.21 731.18 161.24 734.22 163.31 737.10 165.42 739.83 167.58 742.45 169.78 744.92 172.05 747.28 174.37 749.52 176.74 751.62 179.19 753.64 181.72 755.54 184.30 757.33 186.99 759.04 189.74 760.62 192.58 762.12 195.49 763.51 198.53 764.83 201.67 766.05 204.94 767.19 208.30 768.24 212.38 769.36 216.65 770.39 221.14 771.32 225.86 772.15 230.84 772.90 236.15 773.57 241.78 774.17 247.76 774.68 254.07 775.13 260.83 775.51 276.12 776.11 294.49 776.52 317.62 776.78 356.37 776.94 424.06 776.99 1390.00 777.00"/>
</g>
<path d="M335 777H1390" stroke="#3C0082" stroke-opacity="0.3" stroke-width="3.85" fill="none"/>
<g font-size="32" fill="#262626" stroke="#262626" stroke-width="0.4">
<text transform="translate(95.9 819.2) scale(1.0 1.045)" text-anchor="middle">0</text>
<text transform="translate(225.3 819.2) scale(1.0 1.045)" text-anchor="middle">20</text>
<text transform="translate(354.6 819.2) scale(1.0 1.045)" text-anchor="middle">40</text>
<text transform="translate(484.0 819.2) scale(1.0 1.045)" text-anchor="middle">60</text>
<text transform="translate(613.4 819.2) scale(1.0 1.045)" text-anchor="middle">80</text>
<text transform="translate(742.8 819.2) scale(0.975 1.045)" text-anchor="middle">100</text>
<text transform="translate(872.1 819.2) scale(0.975 1.045)" text-anchor="middle">120</text>
<text transform="translate(1001.5 819.2) scale(0.975 1.045)" text-anchor="middle">140</text>
<text transform="translate(1130.9 819.2) scale(0.975 1.045)" text-anchor="middle">160</text>
<text transform="translate(1260.2 819.2) scale(0.975 1.045)" text-anchor="middle">180</text>
<text transform="translate(1388.3 819.2) scale(0.975 1.045)" text-anchor="middle">200</text>
<text transform="translate(84.4 25.0) scale(1 1.045)" text-anchor="end">1</text>
<text transform="translate(86.4 102.6) scale(1 1.045)" text-anchor="end">0.9</text>
<text transform="translate(86.4 177.4) scale(1 1.045)" text-anchor="end">0.8</text>
<text transform="translate(86.4 255.2) scale(1 1.045)" text-anchor="end">0.7</text>
<text transform="translate(86.4 329.7) scale(1 1.045)" text-anchor="end">0.6</text>
<text transform="translate(86.4 407.9) scale(1 1.045)" text-anchor="end">0.5</text>
<text transform="translate(86.4 484.9) scale(1 1.045)" text-anchor="end">0.4</text>
<text transform="translate(86.4 560.1) scale(1 1.045)" text-anchor="end">0.3</text>
<text transform="translate(86.4 637.3) scale(1 1.045)" text-anchor="end">0.2</text>
<text transform="translate(86.4 712.3) scale(1 1.045)" text-anchor="end">0.1</text>
<text transform="translate(84.3 789.5) scale(1 1.045)" text-anchor="end">0</text>
</g>
<g fill="#262626" stroke="#262626" stroke-width="0.4" text-anchor="middle">
<text transform="translate(741.8 862) scale(0.969 1.03)" font-size="34">Time (Days)</text>
<text transform="translate(27.1 395.7) rotate(-90) scale(1.0105 1.02)" font-size="35">Proportion of gut colonised</text>
</g>
<rect x="988.5" y="285.3" width="371.2" height="219" rx="1.5" fill="#fff" stroke="#262626" stroke-width="2.1"/>
<path d="M996.4 314.3H1059" stroke="#006DBD" stroke-width="4.3" fill="none"/>
<text transform="translate(1063.8 331.6) scale(0.995 1.01)" font-size="42.4" fill="#000" stroke="#000" stroke-width="0.55">Campylobacter</text>
<path d="M996.4 368.5H1059" stroke="#DA4F14" stroke-width="4.3" fill="none"/>
<text transform="translate(1063.8 383.8) scale(0.995 1.01)" font-size="42.4" fill="#000" stroke="#000" stroke-width="0.55">Other</text>
<path d="M996.4 420.75H1059" stroke="#EDB11E" stroke-width="4.3" fill="none"/>
<text transform="translate(1063.8 437.7) scale(0.995 1.01)" font-size="42.4" fill="#000" stroke="#000" stroke-width="0.55">HDPs</text>
<path d="M996.4 474.8H1059" stroke="#79268B" stroke-width="4.3" fill="none"/>
<text transform="translate(1063.8 489.9) scale(0.995 1.01)" font-size="42.4" fill="#000" stroke="#000" stroke-width="0.55">Maternal ABs</text>
</g>
</svg></body></html>
